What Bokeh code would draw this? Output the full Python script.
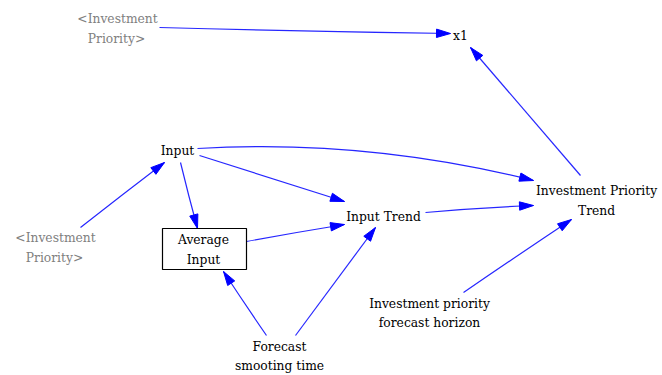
import numpy as np
from bokeh.plotting import figure
from bokeh.models import Range1d
from bokeh.core.properties import value
from bokeh.embed import file_html
from bokeh.resources import INLINE

# ---- node labels (one entry per text line) ----
label_text = ["<Investment", "Priority>", "x1", "Input",
              "Investment Priority", "Trend", "Input Trend",
              "Average", "Input", "<Investment", "Priority>",
              "Forecast", "smooting time",
              "Investment priority", "forecast horizon"]
label_x = [117, 116, 460, 177, 596, 596, 383, 203, 203, 55, 54, 279, 279, 429, 429]
label_y = [18, 38, 35, 150, 190, 210, 216, 239, 259, 237, 257, 346, 365, 303, 322]
label_color = ["#808080", "#808080", "#000000", "#000000", "#000000", "#000000",
               "#000000", "#000000", "#000000", "#808080", "#808080",
               "#000000", "#000000", "#000000", "#000000"]

# ---- level box (Average Input) ----
box_left, box_right, box_top, box_bottom = [162], [246], [228], [269]

# ---- causal links: start, control, end ----
edge_x0 = [159, 580, 197, 199, 180, 246, 80, 266, 295, 425, 463]
edge_y0 = [27, 175, 148, 155, 162, 241, 227, 335, 335, 212, 292]
edge_cx = [305, 525, 365, 271, 188, 295, 122, 244, 335, 480, 517]
edge_cy = [31, 111, 138, 178, 195, 232, 194, 303, 281, 207, 255]
edge_x1 = [450, 470, 533, 344, 197, 344, 164, 223, 375, 533, 571]
edge_y1 = [33, 47, 180, 201, 228, 224, 162, 271, 227, 205, 219]

BLUE = "#0000FF"
FONT = "DejaVu Serif"

p = figure(width=662, height=375, output_backend="svg", toolbar_location=None,
           x_range=Range1d(0, 662), y_range=Range1d(375, 0),
           min_border=0, outline_line_color=None)
p.axis.visible = False
p.grid.visible = False
p.background_fill_color = "white"
p.border_fill_color = "white"

# links
p.quadratic(x0=edge_x0, y0=edge_y0, x1=edge_x1, y1=edge_y1, cx=edge_cx, cy=edge_cy,
            line_color=BLUE, line_width=1.2, line_alpha=0.85)

# arrow heads (computed from link end and its tangent)
head_len, head_half = 14.0, 4.2
xs, ys = [], []
for cx, cy, x1, y1 in zip(edge_cx, edge_cy, edge_x1, edge_y1):
    d = np.array([x1 - cx, y1 - cy], dtype=float)
    d /= np.hypot(*d)
    n = np.array([-d[1], d[0]])
    base = np.array([x1, y1]) - d * head_len
    a = base + n * head_half
    b = base - n * head_half
    xs.append([x1, a[0], b[0]])
    ys.append([y1, a[1], b[1]])
p.patches(xs, ys, fill_color=BLUE, line_color=BLUE, line_width=1)

# box
p.quad(left=box_left, right=box_right, top=box_top, bottom=box_bottom,
       fill_color="white", line_color="black", line_width=1.2)

# labels
p.text(x=label_x, y=label_y, text=label_text, text_color=label_color,
       text_font=value(FONT), text_font_size="12.3px",
       text_align="center", text_baseline="middle")

open("out.html", "w").write(file_html(p, INLINE))
